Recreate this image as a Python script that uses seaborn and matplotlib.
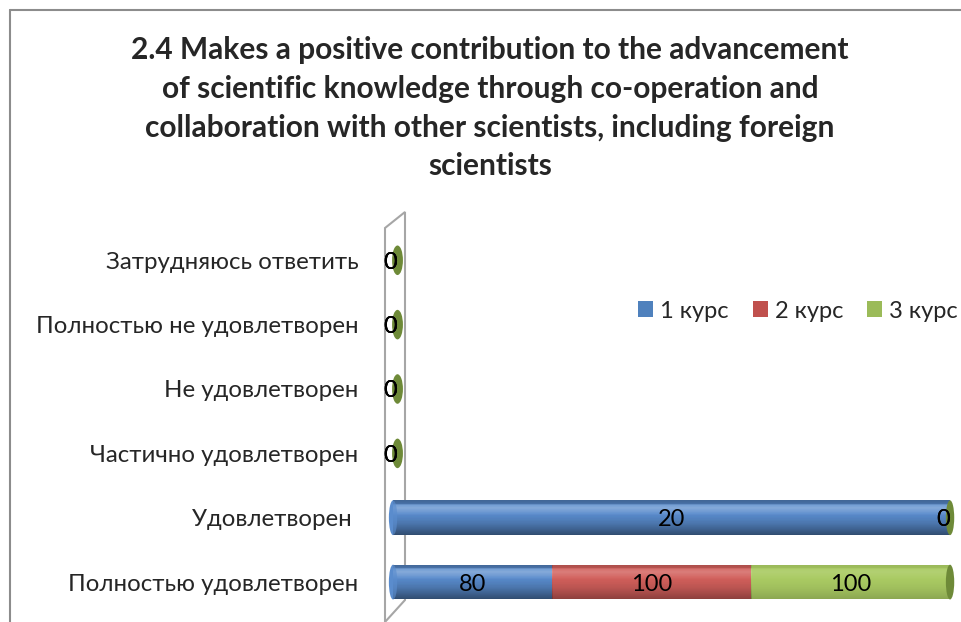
import numpy as np
import pandas as pd
import matplotlib
matplotlib.use("Agg")
import matplotlib.pyplot as plt
import seaborn as sns
from matplotlib.patches import Ellipse, Polygon, Patch
from matplotlib.lines import Line2D

# ---- data ----
categories = [
    "Затрудняюсь ответить",
    "Полностью не удовлетворен",
    "Не удовлетворен",
    "Частично удовлетворен",
    "Удовлетворен ",
    "Полностью удовлетворен",
]
series_names = ["1 курс", "2 курс", "3 курс"]
kurs1 = [0, 0, 0, 0, 20, 80]
kurs2 = [0, 0, 0, 0, 0, 100]
kurs3 = [0, 0, 0, 0, 0, 100]
colors = ["#5A8CCD", "#D2605C", "#AACB63"]
legend_colors = ["#4F81BD", "#C0504D", "#9BBB59"]
cap_color = "#6E8A38"

title = ("2.4 Makes a positive contribution to the advancement\n"
         "of scientific knowledge through co-operation and\n"
         "collaboration with other scientists, including foreign\n"
         "scientists")

# ---- 100% stacked shares ----
df = pd.DataFrame({"cat": categories, "s1": kurs1, "s2": kurs2, "s3": kurs3})
total = df[["s1", "s2", "s3"]].sum(axis=1)
for c in ["s1", "s2", "s3"]:
    df["p" + c[1]] = np.where(total > 0, df[c] / total.replace(0, 1) * 100, 0)
df["c1"] = df["p1"]
df["c2"] = df["p1"] + df["p2"]
df["c3"] = df["c2"] + df["p3"]

sns.set_style("white")
plt.rcParams["font.family"] = ["Lato", "DejaVu Sans"]

fig = plt.figure(figsize=(9.61, 6.22), dpi=100)
ax = fig.add_axes([0.409, 0.0, 0.5796, 0.654])
ax.patch.set_alpha(0)

bar_h = 0.54
# draw cumulative layers back to front
for col, color in zip(["c3", "c2", "c1"], colors[::-1]):
    sns.barplot(data=df, x=col, y="cat", color=color, width=bar_h,
                orient="h", ax=ax, saturation=1, edgecolor="none")

# cylinder shading overlay (soft highlight near top, darker towards bottom)
t = np.linspace(0, 1, 64)
shade = np.where(t < 0.3, 0.10 * (0.3 - t) / 0.3, 0.18 * ((t - 0.3) / 0.7) ** 1.8)
light = np.where(t < 0.5, 0.10 * (1 - np.abs(t - 0.22) / 0.22).clip(0), 0)
grad = np.zeros((64, 1, 4))
white = (light > shade).astype(float)
for k in range(3):
    grad[:, 0, k] = white
grad[:, 0, 3] = np.maximum(light, shade)


def add_shading(patch, x0, x1, yc):
    im = ax.imshow(grad, extent=(x0, x1, yc + bar_h / 2, yc - bar_h / 2),
                   aspect="auto", origin="upper", zorder=patch.get_zorder() + 0.1)
    im.set_clip_path(patch)


for p in list(ax.patches):
    w = p.get_width()
    if w <= 0:
        continue
    add_shading(p, p.get_x(), p.get_x() + w, p.get_y() + p.get_height() / 2)

# cylinder caps
ew = 1.5
for i, row in df.iterrows():
    if row["c3"] > 0:
        first = colors[0] if row["p1"] > 0 else (colors[1] if row["p2"] > 0 else colors[2])
        e = Ellipse((0, i), ew, bar_h, facecolor=first, edgecolor="none",
                    clip_on=False, zorder=1.5)
        ax.add_patch(e)
        add_shading(e, -ew / 2, ew / 2, i)
        ax.add_patch(Ellipse((row["c3"], i), ew, bar_h, facecolor=cap_color,
                             edgecolor="none", clip_on=False, zorder=3))
    else:
        ax.add_patch(Ellipse((0.8, i), ew * 1.3, bar_h * 0.85, facecolor=cap_color,
                             edgecolor="none", clip_on=False, zorder=3))

ax.set_xlim(0, 100)
ax.set_ylim(5.62, -0.70)
ax.set_xlabel("")
ax.set_ylabel("")
ax.set_xticks([])
for s in ax.spines.values():
    s.set_visible(False)
ax.tick_params(axis="y", length=0, pad=25, labelsize=17.3)

# value labels
for i, row in df.iterrows():
    lefts = [0, row["c1"], row["c2"]]
    widths = [row["p1"], row["p2"], row["p3"]]
    vals = [row["s1"], row["s2"], row["s3"]]
    for l, w, v in zip(lefts, widths, vals):
        x = l + w / 2
        if w == 0 and x == 0:
            x = -0.6
        elif w == 0:
            x = x - 1.2
        ax.text(x, i + 0.03, f"{v}", ha="center", va="center", fontsize=17,
                color="black", zorder=4, clip_on=False)

# back wall outline
wall = Polygon([[385 / 961, 1 - 228 / 622], [405 / 961, 1 - 212 / 622],
                [405 / 961, 1 - 600 / 622], [385 / 961, 1 - 622 / 622]],
               closed=True, fill=False, edgecolor="#A6A6A6", lw=1.5,
               transform=fig.transFigure, zorder=0)
fig.add_artist(wall)

# outer frame
fig.add_artist(Line2D([10 / 961, 10 / 961], [0, 1 - 10 / 622], color="#8C8C8C",
                      lw=1.5, transform=fig.transFigure))
fig.add_artist(Line2D([10 / 961, 1], [1 - 10 / 622, 1 - 10 / 622], color="#8C8C8C",
                      lw=1.5, transform=fig.transFigure))

fig.text(490 / 961, 1 - 36 / 622, title, ha="center", va="top", fontsize=21.5,
         fontweight="bold", linespacing=1.47)

handles = [Patch(facecolor=c, edgecolor="none") for c in legend_colors]
fig.legend(handles, series_names, loc="center left",
           bbox_to_anchor=(638 / 961, 1 - 311 / 622), ncol=3, frameon=False,
           fontsize=17, handlelength=0.65, handleheight=0.65, handletextpad=0.3,
           columnspacing=1.0, borderaxespad=0, borderpad=0)

fig.savefig("out.png", dpi=100)
